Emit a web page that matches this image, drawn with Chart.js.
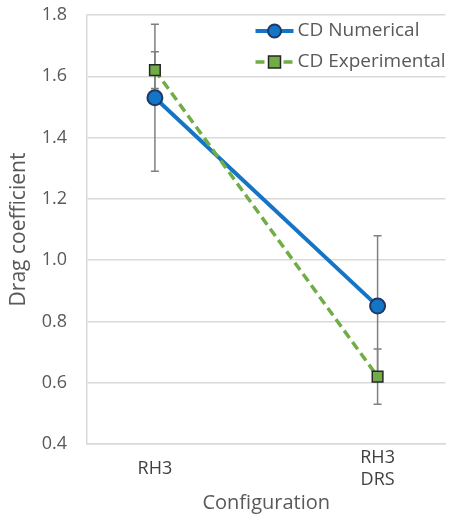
<!DOCTYPE html>
<html>
<head>
<meta charset="utf-8">
<script src="https://cdn.jsdelivr.net/npm/chart.js@4/dist/chart.umd.min.js"></script>
<style>
  html, body { margin: 0; padding: 0; background: #ffffff; }
  #wrap { width: 455px; height: 517px; position: relative; }
</style>
</head>
<body>
<div id="wrap"><canvas id="c" width="455" height="517"></canvas></div>
<script>
const categories = [['RH3'], ['RH3', 'DRS']];
const seriesNames = ['CD Numerical', 'CD Experimental'];
const numerical = [1.53, 0.85];
const numericalErr = [0.24, 0.23];
const experimental = [1.62, 0.62];
const experimentalErr = [0.06, 0.09];
const yTicks = [0.4, 0.6, 0.8, 1.0, 1.2, 1.4, 1.6, 1.8];
const xTitle = 'Configuration';
const yTitle = 'Drag coefficient';

const FONT = "'Open Sans', sans-serif";
const BLUE = '#1475c6';
const BLUE_EDGE = '#1f3864';
const GREEN = '#70ad47';
const GREEN_EDGE = '#262626';

const errorBars = {
  id: 'errorBars',
  beforeDatasetsDraw(chart) {
    const ctx = chart.ctx;
    const xs = chart.scales.x, ys = chart.scales.y;
    const sets = [[numerical, numericalErr], [experimental, experimentalErr]];
    ctx.save();
    ctx.strokeStyle = '#808080';
    ctx.lineWidth = 1.5;
    sets.forEach(([vals, errs]) => {
      vals.forEach((v, i) => {
        const x = xs.getPixelForValue(i);
        const y1 = ys.getPixelForValue(v + errs[i]);
        const y2 = ys.getPixelForValue(v - errs[i]);
        ctx.beginPath();
        ctx.moveTo(x, y1); ctx.lineTo(x, y2);
        ctx.moveTo(x - 4, y1); ctx.lineTo(x + 4, y1);
        ctx.moveTo(x - 4, y2); ctx.lineTo(x + 4, y2);
        ctx.stroke();
      });
    });
    ctx.restore();
  }
};

const customLegend = {
  id: 'customLegend',
  afterDraw(chart) {
    const ctx = chart.ctx;
    const area = chart.chartArea;
    const x0 = area.right - 190;
    const rows = [area.top + 16, area.top + 47];
    ctx.save();
    chart.data.datasets.forEach((ds, k) => {
      const y = rows[k];
      ctx.beginPath();
      ctx.strokeStyle = ds.borderColor;
      ctx.lineWidth = ds.borderWidth;
      ctx.setLineDash(ds.borderDash || []);
      ctx.moveTo(x0, y); ctx.lineTo(x0 + 38, y);
      ctx.stroke();
      ctx.setLineDash([]);
      ctx.fillStyle = ds.pointBackgroundColor;
      ctx.strokeStyle = ds.pointBorderColor;
      ctx.lineWidth = ds.pointBorderWidth;
      ctx.beginPath();
      if (ds.pointStyle === 'rect') {
        ctx.rect(x0 + 19 - 6, y - 6, 12, 12);
      } else {
        ctx.arc(x0 + 19, y, 6.5, 0, Math.PI * 2);
      }
      ctx.fill(); ctx.stroke();
      ctx.fillStyle = '#595959';
      ctx.font = '19px ' + FONT;
      ctx.textBaseline = 'middle';
      ctx.textAlign = 'left';
      ctx.fillText(ds.label, x0 + 42, y);
    });
    ctx.restore();
  }
};

new Chart(document.getElementById('c'), {
  type: 'line',
  data: {
    datasets: [
      {
        label: seriesNames[0],
        data: numerical.map((v, i) => ({ x: i, y: v })),
        borderColor: BLUE,
        borderWidth: 4,
        pointStyle: 'circle',
        pointRadius: 7.5,
        pointBackgroundColor: BLUE,
        pointBorderColor: BLUE_EDGE,
        pointBorderWidth: 2,
        order: 1
      },
      {
        label: seriesNames[1],
        data: experimental.map((v, i) => ({ x: i, y: v })),
        borderColor: GREEN,
        borderWidth: 3.5,
        borderDash: [9, 5],
        pointStyle: 'rect',
        pointRadius: 7.5,
        pointBackgroundColor: GREEN,
        pointBorderColor: GREEN_EDGE,
        pointBorderWidth: 1.5,
        order: 0
      }
    ]
  },
  options: {
    responsive: false,
    animation: false,
    devicePixelRatio: 1,
    layout: { padding: { top: 15, right: 5, left: 0, bottom: 0 } },
    plugins: { legend: { display: false }, tooltip: { enabled: false } },
    scales: {
      x: {
        type: 'linear',
        min: -0.305,
        max: 1.305,
        afterBuildTicks(scale) { scale.ticks = categories.map((c, i) => ({ value: i })); },
        afterFit(scale) { scale.height = 73; scale.paddingLeft = 0; scale.paddingRight = 0; },
        grid: { display: false, drawTicks: false },
        border: { display: true, color: '#d9d9d9', width: 1.5 },
        ticks: {
          padding: 14,
          crossAlign: 'center',
          color: '#404040',
          font: { family: FONT, size: 18 },
          autoSkip: false,
          maxRotation: 0,
          callback: (v) => categories[v]
        },
        title: {
          display: true,
          text: xTitle,
          color: '#595959',
          font: { family: FONT, size: 20 },
          padding: { top: 0, bottom: 2 }
        }
      },
      y: {
        min: 0.4,
        max: 1.8,
        afterBuildTicks(scale) { scale.ticks = yTicks.map(v => ({ value: v })); },
        afterFit(scale) { scale.width = 87; scale.paddingTop = 0; scale.paddingBottom = 0; },
        grid: { color: '#d9d9d9', lineWidth: 1.5, drawTicks: false },
        border: { display: true, color: '#d9d9d9', width: 1.5 },
        ticks: {
          padding: 20,
          color: '#595959',
          font: { family: FONT, size: 18 },
          callback: (v) => v.toFixed(1)
        },
        title: {
          display: true,
          text: yTitle,
          color: '#595959',
          font: { family: FONT, size: 21 },
          padding: { top: 6, bottom: 0 }
        }
      }
    }
  },
  plugins: [errorBars, customLegend]
});
</script>
</body>
</html>
